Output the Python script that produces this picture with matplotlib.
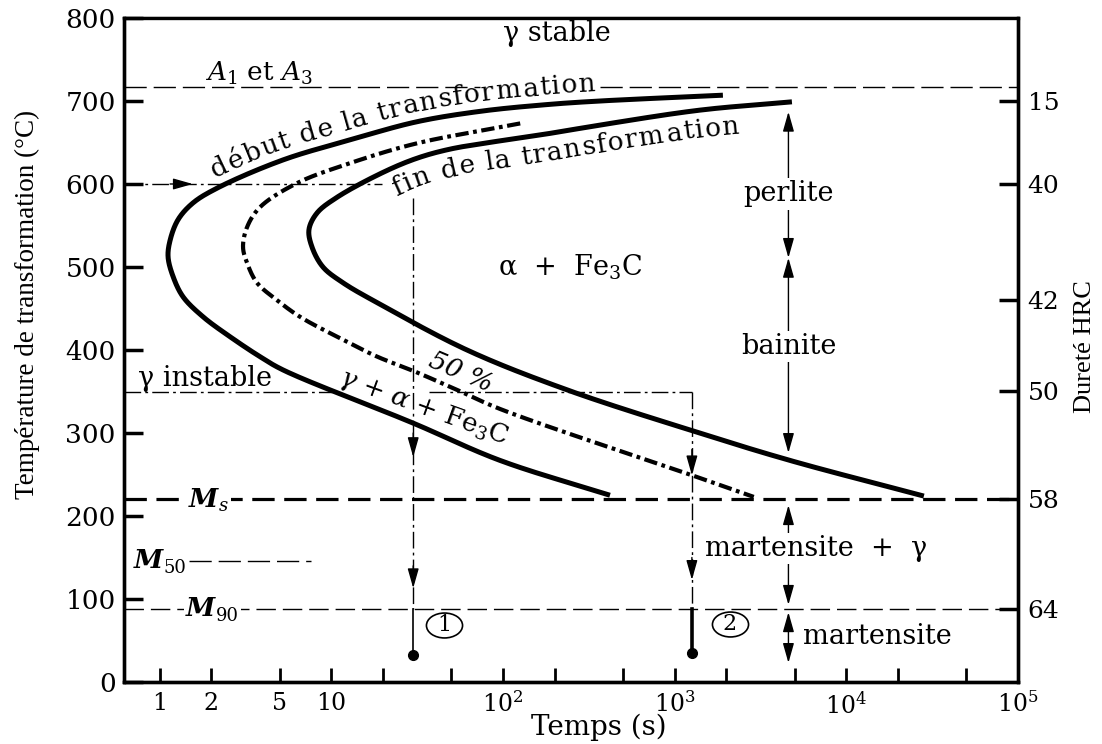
import numpy as np
import matplotlib
matplotlib.use("Agg")
import matplotlib.pyplot as plt
from matplotlib.font_manager import FontProperties
from matplotlib.path import Path
from matplotlib.ticker import NullLocator

plt.rcParams["font.family"] = ["DejaVu Serif"]
plt.rcParams["mathtext.fontset"] = "dejavuserif"

# Isothermal transformation curves (time in s, temperature in degC)
start_t = [1910, 367, 188, 76.4, 31.5, 12.8, 5.23, 2.16, 1.56, 1.28, 1.15, 1.12, 1.20,
           1.37, 1.79, 2.57, 3.84, 5.23, 29.9, 96, 420]
start_T = [707, 700, 696, 688, 675, 653, 629, 595, 577, 557, 532, 512, 488,
           464, 440, 416, 392, 376, 312, 267, 225]

half_t = [126, 31.5, 12.8, 6.31, 3.84, 3.23, 3.06, 3.23, 3.69, 4.83, 6.57, 10.8, 18.5,
          29.9, 53.9, 96, 1348, 2890]
half_T = [673, 649, 625, 601, 572, 548, 524, 505, 481, 460, 440, 416, 392,
          375, 352, 329, 247, 223]

finish_t = [4820, 1403, 367, 188, 96, 49.1, 31.5, 20.0, 10.8, 8.25, 7.41, 7.72, 8.94,
            11.7, 18.5, 61.7, 236, 1348, 4690, 28300]
finish_T = [699, 689, 671, 661, 652, 642, 631, 614, 584, 565, 545, 524, 500,
            481, 457, 400, 352, 301, 267, 224]

# Characteristic temperatures
A1_A3 = 717
Ms = 220
M50 = 146
M90 = 88

# Two quench-and-hold paths: hold time, hold temperature, final temperature
path_t = [30, 1260]
path_hold = [600, 350]
path_end = [33, 35]

# Structure bands along the right side
band_t = 4600
perlite_band = (687, 511)
bainite_band = (511, 276)
mart_gamma_band = (213, 93)
mart_band = (84, 23)

# Axes
temp_ticks = [0, 100, 200, 300, 400, 500, 600, 700, 800]
time_ticks = [1, 2, 5, 10, 20, 50, 1e2, 2e2, 5e2, 1e3, 2e3, 5e3, 1e4, 2e4, 5e4, 1e5]
time_labels = ["1", "2", "5", "10", "", "", "$10^2$", "", "", "$10^3$", "", "",
               "$10^4$", "", "", "$10^5$"]
hrc_T = [700, 600, 460, 350, 220, 88]
hrc_labels = ["15", "40", "42", "50", "58", "64"]
t_min, t_max = 0.62, 1.0e5

W, H = 1102, 744
fig = plt.figure(figsize=(W / 100, H / 100), dpi=100)
ax = fig.add_axes([124 / W, 62 / H, (1018 - 124) / W, (682 - 18) / H])
ax.set_xscale("log")
ax.set_xlim(t_min, t_max)
ax.set_ylim(0, 800)

ax.set_yticks(temp_ticks)
ax.set_yticklabels([str(v) for v in temp_ticks])
ax.tick_params(axis="y", direction="in", length=14, width=2.5, labelsize=19, pad=6)
ax.set_xticks(time_ticks)
ax.set_xticklabels(time_labels)
ax.xaxis.set_minor_locator(NullLocator())
ax.tick_params(axis="x", direction="in", length=10, width=2, labelsize=17, pad=7)
for side, lw in (("left", 2.4), ("bottom", 2.4), ("right", 2.4), ("top", 1.6)):
    ax.spines[side].set_linewidth(lw)

ax2 = ax.twinx()
ax2.set_ylim(0, 800)
ax2.set_yticks(hrc_T)
ax2.set_yticklabels(hrc_labels)
ax2.tick_params(axis="y", direction="in", length=14, width=2.5, labelsize=18, pad=7)
for side in ("left", "bottom", "right", "top"):
    ax2.spines[side].set_linewidth(2.4)

fig.text(27 / W, 1 - 304 / H, "Température de transformation (°C)", rotation=90,
         ha="center", va="center", fontsize=19.5, family="Liberation Serif")
fig.text(1085 / W, 1 - 347 / H, "Dureté HRC", rotation=90,
         ha="center", va="center", fontsize=19, family="Liberation Serif")
fig.text(599 / W, 1 - 727 / H, "Temps (s)", ha="center", va="center", fontsize=20)


def smooth_display(tt, TT, n=30):
    """Centripetal Catmull-Rom through the points, in display space."""
    P = ax.transData.transform(np.column_stack([tt, TT]))
    P = np.vstack([2 * P[0] - P[1], P, 2 * P[-1] - P[-2]])
    out = []
    for i in range(1, len(P) - 2):
        p0, p1, p2, p3 = P[i - 1], P[i], P[i + 1], P[i + 2]
        t0 = 0.0
        t1 = t0 + np.linalg.norm(p1 - p0) ** 0.5
        t2 = t1 + np.linalg.norm(p2 - p1) ** 0.5
        t3 = t2 + np.linalg.norm(p3 - p2) ** 0.5
        u = np.linspace(t1, t2, n, endpoint=False)[:, None]
        A1 = (t1 - u) / (t1 - t0) * p0 + (u - t0) / (t1 - t0) * p1
        A2 = (t2 - u) / (t2 - t1) * p1 + (u - t1) / (t2 - t1) * p2
        A3 = (t3 - u) / (t3 - t2) * p2 + (u - t2) / (t3 - t2) * p3
        B1 = (t2 - u) / (t2 - t0) * A1 + (u - t0) / (t2 - t0) * A2
        B2 = (t3 - u) / (t3 - t1) * A2 + (u - t1) / (t3 - t1) * A3
        out.append((t2 - u) / (t2 - t1) * B1 + (u - t1) / (t2 - t1) * B2)
    out.append(P[-2][None, :])
    D = np.vstack(out)
    keep = np.concatenate([[True], np.hypot(*np.diff(D, axis=0).T) > 1e-6])
    return D[keep]


def plot_display(D, **kw):
    data = ax.transData.inverted().transform(D)
    ax.plot(data[:, 0], data[:, 1], **kw)


start_D = smooth_display(start_t, start_T)
half_D = smooth_display(half_t, half_T)
finish_D = smooth_display(finish_t, finish_T)

plot_display(start_D, color="k", lw=3.6, solid_capstyle="butt", zorder=4)
plot_display(finish_D, color="k", lw=3.6, solid_capstyle="butt", zorder=4)
plot_display(half_D, color="k", lw=3.0, dashes=(3.2, 1.1, 0.9, 1.1),
             dash_capstyle="butt", zorder=4)

# Horizontal reference lines
ax.plot([t_min, 73.5], [A1_A3, A1_A3], color="k", lw=1.0, dashes=(16, 5))
ax.plot([366, t_max], [A1_A3, A1_A3], color="k", lw=1.0, dashes=(16, 5))
ax.plot([t_min, t_max], [Ms, Ms], color="k", lw=2.3, dashes=(7, 3), zorder=3)
ax.plot([1.49, 7.65], [M50, M50], color="k", lw=1.0, dashes=(16, 5))
ax.plot([t_min, t_max], [M90, M90], color="k", lw=1.0, dashes=(14, 5))

dashdot = dict(color="k", lw=1.0, dashes=(12, 3, 2, 3))
arrow_kw = dict(arrowstyle="-|>,head_length=0.6,head_width=0.17", color="k",
                lw=1.0, shrinkA=0, shrinkB=0, mutation_scale=20)


def arrow_tip(x, y, x_from, y_from):
    ax.annotate("", xy=(x, y), xytext=(x_from, y_from), arrowprops=arrow_kw)


# Path 1: hold at 600 degC, then quench
ax.plot([t_min, 19.8], [path_hold[0], path_hold[0]], **dashdot)
arrow_tip(1.56, path_hold[0], 1.15, path_hold[0])
ax.plot([path_t[0], path_t[0]], [583, M90], **dashdot)
ax.plot([path_t[0], path_t[0]], [M90, path_end[0]], color="k", lw=1.2)
arrow_tip(path_t[0], 271, path_t[0], 300)
arrow_tip(path_t[0], 113, path_t[0], 140)
ax.plot(path_t[0], path_end[0], "o", color="k", ms=7)

# Path 2: hold at 350 degC, then quench
ax.plot([t_min, 10.1], [path_hold[1], path_hold[1]], **dashdot)
ax.plot([37.2, path_t[1]], [path_hold[1], path_hold[1]], **dashdot)
ax.plot([path_t[1], path_t[1]], [path_hold[1], M90], **dashdot)
ax.plot([path_t[1], path_t[1]], [M90, path_end[1]], color="k", lw=2.6)
arrow_tip(path_t[1], 249, path_t[1], 280)
arrow_tip(path_t[1], 123, path_t[1], 150)
ax.plot(path_t[1], path_end[1], "o", color="k", ms=7)

# Circled path numbers
oval = Path(Path.unit_circle().vertices * np.array([1.45, 1.0]), Path.unit_circle().codes)
for tc, Tc, lab in ((45.3, 69, "1"), (2090, 70, "2")):
    ax.plot(tc, Tc, marker=oval, ms=26, mfc="none", mec="k", mew=1.2)
    ax.text(tc, Tc, lab, ha="center", va="center", fontsize=16)

# Structure bands
dbl = dict(arrowstyle="<|-|>,head_length=0.6,head_width=0.17", color="k", lw=1.0,
           shrinkA=0, shrinkB=0, mutation_scale=20)
for top, bot in (perlite_band, bainite_band, mart_gamma_band, mart_band):
    ax.annotate("", xy=(band_t, bot), xytext=(band_t, top), arrowprops=dbl)

white = dict(facecolor="white", edgecolor="none", pad=1.5)
ax.text(band_t, 588, "perlite", ha="center", va="center", fontsize=19.5, bbox=white, zorder=6)
ax.text(band_t, 404, "bainite", ha="center", va="center", fontsize=19.5, bbox=white, zorder=6)
ax.text(6700, 161, "martensite  +  γ", ha="center", va="center", fontsize=19.5,
        bbox=white, zorder=6)
ax.text(5620, 55, "martensite", ha="left", va="center", fontsize=19.5)

# Region labels
ax.text(206, 781, "γ stable", ha="center", va="center", fontsize=19.5)
ax.text(3.81, 733, "$A_1$ et $A_3$", ha="center", va="center", fontsize=19)
ax.text(1.83, 366, "γ instable", ha="center", va="center", fontsize=19.5)
ax.text(248, 500, "α  +  Fe$_3$C", ha="center", va="center", fontsize=19.5)
ax.text(57, 373, "50 %", ha="center", va="center", fontsize=19, style="italic",
        rotation=-23)
ax.text(34.7, 331, r"$\gamma$ + $\alpha$ + Fe$_3$C", ha="center", va="center",
        fontsize=19, rotation=-20)


def m_label(t, T, sub, sub_style):
    ax.text(t, T, "M", ha="right", va="center", fontsize=19, style="italic",
            weight="bold", bbox=white, zorder=6)
    ax.annotate(sub, xy=(t, T), xytext=(0.5, -5), textcoords="offset points",
                ha="left", va="center", fontsize=13, style=sub_style,
                bbox=white, zorder=6)


m_label(2.2, Ms, "s", "italic")
m_label(1.04, M50, "50", "normal")
m_label(2.1, M90, "90", "normal")

renderer = fig.canvas.get_renderer()


def upper_branch(D):
    k = int(np.argmin(D[:, 0]))
    return D[: k + 1][::-1]


def text_along(branch, text, t_from, t_to, offset, size):
    d = np.diff(branch, axis=0)
    nrm = np.column_stack([-d[:, 1], d[:, 0]])
    nrm /= np.hypot(nrm[:, 0], nrm[:, 1])[:, None]
    vn = np.vstack([nrm[:1], (nrm[:-1] + nrm[1:]) / 2, nrm[-1:]])
    vn /= np.hypot(vn[:, 0], vn[:, 1])[:, None]
    O = branch + offset * vn
    s = np.concatenate([[0], np.cumsum(np.hypot(*np.diff(O, axis=0).T))])
    x_from = ax.transData.transform((t_from, 500))[0]
    x_to = ax.transData.transform((t_to, 500))[0]
    s0 = np.interp(x_from, branch[:, 0], s)
    s1 = np.interp(x_to, branch[:, 0], s)
    prop = FontProperties(family="DejaVu Serif", size=size)
    ref = renderer.get_text_width_height_descent("x", prop, ismath=False)[0]
    adv = [renderer.get_text_width_height_descent(text[:i] + "x", prop, ismath=False)[0] - ref
           for i in range(len(text) + 1)]
    k = (s1 - s0) / adv[-1]
    inv = ax.transData.inverted()
    for i, ch in enumerate(text):
        if ch == " ":
            continue
        sc = s0 + k * 0.5 * (adv[i] + adv[i + 1])
        px = np.interp(sc, s, O[:, 0])
        py = np.interp(sc, s, O[:, 1])
        ax_ = np.interp([sc - 6, sc + 6], s, O[:, 0])
        ay_ = np.interp([sc - 6, sc + 6], s, O[:, 1])
        ang = np.degrees(np.arctan2(ay_[1] - ay_[0], ax_[1] - ax_[0]))
        xd, yd = inv.transform((px, py))
        ax.text(xd, yd, ch, fontsize=size, rotation=ang, rotation_mode="anchor",
                ha="center", va="baseline", zorder=6)


text_along(upper_branch(start_D), "début de la transformation", 2.2, 357, 10, 19)
text_along(upper_branch(finish_D), "fin de la transformation", 20.6, 2355, -27, 19)

fig.savefig("out.png", dpi=100)
